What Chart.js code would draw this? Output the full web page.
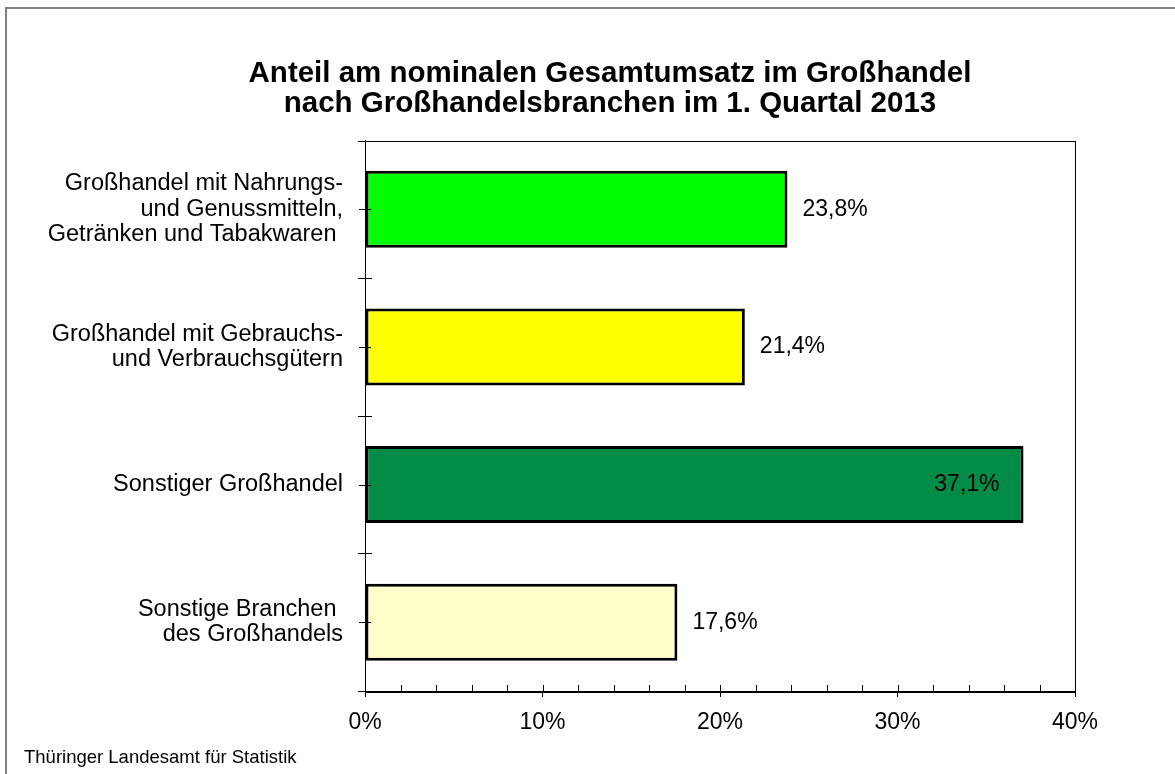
<!DOCTYPE html>
<html>
<head>
<meta charset="utf-8">
<script src="https://cdn.jsdelivr.net/npm/chart.js@4/dist/chart.umd.min.js"></script>
<style>
  body { margin: 0; background: #fff; overflow: hidden; }
  #frame { position: absolute; left: 5px; top: 7px; width: 1300px; height: 900px; border: 2px solid #808080; }
  #chart { position: absolute; left: 0; top: 0; }
  #source { position: absolute; left: 24px; top: 746px; font: 18.5px "Liberation Sans", Arial, sans-serif; color: #000; }
</style>
</head>
<body>
<div id="frame"></div>
<canvas id="chart" width="1175" height="774"></canvas>
<div id="source">Thüringer Landesamt für Statistik</div>
<script>
var categories = [
  ["Großhandel mit Nahrungs-", "und Genussmitteln,", "Getränken und Tabakwaren "],
  ["Großhandel mit Gebrauchs-", "und Verbrauchsgütern"],
  "Sonstiger Großhandel",
  ["Sonstige Branchen ", "des Großhandels"]
];
var shares = [23.8, 21.4, 37.1, 17.6];
var barColors = ["#00FF00", "#FFFF00", "#008C46", "#FFFFCC"];
var titleLines = ["Anteil am nominalen Gesamtumsatz im Großhandel", "nach Großhandelsbranchen im 1. Quartal 2013"];
var xMin = 0, xMax = 40, majorStep = 10, minorStep = 2;

var fontFamily = '"Liberation Sans", Arial, sans-serif';
var titleCenter = 610;

function formatPercent(v) {
  return v.toFixed(1).replace(".", ",") + "%";
}

// title is centred over the whole graphic, not between the paddings
var titlePlace = {
  id: "titlePlace",
  afterLayout: function(chart) {
    var t = chart.titleBlock;
    t.left = 2 * titleCenter - t.right;
    t.width = t.right - t.left;
  }
};

// plot frame, minor ticks and category ticks
var axisExtras = {
  id: "axisExtras",
  afterDatasetsDraw: function(chart) {
    var ctx = chart.ctx;
    var a = chart.chartArea;
    var xs = chart.scales.x, ys = chart.scales.y;
    ctx.save();
    ctx.strokeStyle = "#000";
    ctx.lineWidth = 1;
    ctx.strokeRect(Math.round(a.left) + 0.5, Math.round(a.top) + 0.5, Math.round(a.right - a.left), Math.round(a.bottom - a.top));
    ctx.beginPath();
    for (var v = xMin; v <= xMax; v += minorStep) {
      var px = Math.round(xs.getPixelForValue(v)) + 0.5;
      ctx.moveTo(px, a.bottom);
      ctx.lineTo(px, a.bottom - 6);
    }
    for (var i = 0; i < categories.length; i++) {
      var cy = Math.round(ys.getPixelForValue(i)) + 0.5;
      ctx.moveTo(a.left - 6, cy);
      ctx.lineTo(a.left + 6, cy);
    }
    for (var j = 0; j <= categories.length; j++) {
      var by = Math.round(ys.getPixelForValue(j - 0.5)) + 0.5;
      ctx.moveTo(a.left - 7, by);
      ctx.lineTo(a.left + 7, by);
    }
    ctx.stroke();
    ctx.restore();
  }
};

// value labels next to (or inside) the bars
var valueLabels = {
  id: "valueLabels",
  afterDatasetsDraw: function(chart) {
    var ctx = chart.ctx;
    var a = chart.chartArea;
    var meta = chart.getDatasetMeta(0);
    ctx.save();
    ctx.font = "23px " + fontFamily;
    ctx.fillStyle = "#000";
    ctx.textBaseline = "middle";
    meta.data.forEach(function(bar, i) {
      var text = formatPercent(shares[i]);
      var w = ctx.measureText(text).width;
      if (bar.x + 15 + w > a.right) {
        ctx.textAlign = "right";
        ctx.fillText(text, bar.x - 24, bar.y);
      } else {
        ctx.textAlign = "left";
        ctx.fillText(text, bar.x + 15, bar.y);
      }
    });
    ctx.restore();
  }
};

new Chart(document.getElementById("chart"), {
  type: "bar",
  data: {
    labels: categories,
    datasets: [{
      data: shares,
      backgroundColor: barColors,
      borderColor: "#000",
      borderWidth: 3,
      borderSkipped: false,
      barPercentage: 0.56,
      categoryPercentage: 1
    }]
  },
  options: {
    indexAxis: "y",
    responsive: false,
    animation: false,
    devicePixelRatio: 1,
    layout: { padding: { left: 5, right: 100, top: 0, bottom: 0 } },
    plugins: {
      legend: { display: false },
      tooltip: { enabled: false },
      title: {
        display: true,
        text: titleLines,
        color: "#000",
        font: { family: fontFamily, size: 29.5, weight: "bold", lineHeight: 1.0 },
        padding: { top: 59.5, bottom: 22 }
      }
    },
    scales: {
      x: {
        min: xMin,
        max: xMax,
        grid: { drawOnChartArea: false, drawTicks: true, tickLength: 6, color: "#000" },
        border: { display: true, color: "#000", width: 1 },
        ticks: {
          stepSize: majorStep,
          padding: 12,
          color: "#000",
          font: { family: fontFamily, size: 23 },
          callback: function(v) { return v + "%"; }
        },
        afterFit: function(scale) { scale.height = 83; }
      },
      y: {
        grid: { display: true, drawOnChartArea: false, drawTicks: false, offset: true },
        border: { display: true, color: "#000", width: 1 },
        ticks: {
          padding: 22,
          color: "#000",
          font: { family: fontFamily, size: 23.5, lineHeight: 1.09 }
        },
        afterFit: function(scale) { scale.width = 360; }
      }
    }
  },
  plugins: [titlePlace, axisExtras, valueLabels]
});
</script>
</body>
</html>
